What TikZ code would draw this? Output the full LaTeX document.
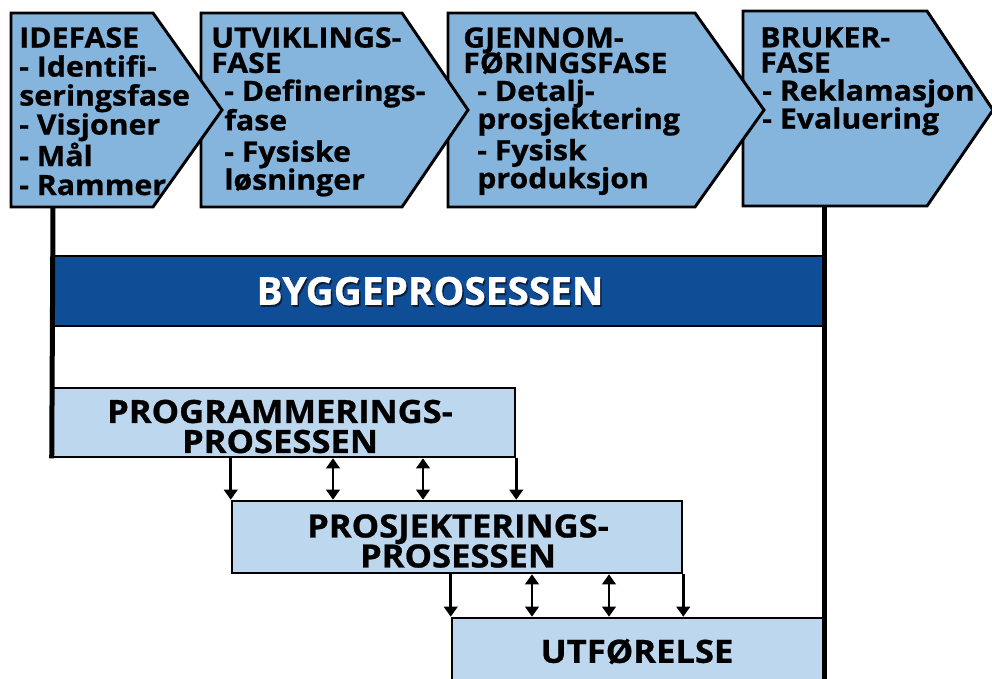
\documentclass[tikz,border=0pt]{standalone}
\usepackage{fontspec}
\setmainfont{Open Sans}[BoldFeatures={FakeStretch=1.08,FakeBold=0.8}]
\usetikzlibrary{arrows.meta}
\definecolor{phasefill}{RGB}{133,180,220}
\definecolor{procfill}{RGB}{189,215,238}
\definecolor{barblue}{RGB}{16,77,151}
\definecolor{barshadow}{RGB}{8,30,60}

\begin{document}
\begin{tikzpicture}[x=0.75pt,y=-0.75pt,
  phase/.style={draw=black, line width=2.2pt, fill=phasefill, line join=miter},
  phasetext/.style={anchor=north west, inner sep=0pt, align=left,
    font=\bfseries\fontsize{21}{21}\selectfont},
  procbox/.style={draw=black, line width=1.9pt, fill=procfill, rectangle, inner sep=0pt},
  proctext/.style={inner sep=0pt, align=center,
    font=\bfseries\fontsize{24}{22.5}\selectfont},
  frame/.style={line width=3.75pt, line cap=butt},
  tip/.tip={Triangle[width=10pt,length=7.5pt]},
  flow/.style={line width=2pt, -tip},
  twoway/.style={line width=2pt, tip-tip}
]
\useasboundingbox (0,0) rectangle (992,678);
\clip (0,0) rectangle (992,678);

% phase chevrons, later phases underneath earlier ones
\draw[phase] (743,11) -- (927,11) -- (993,110) -- (927,206) -- (743,206) -- cycle;
\draw[phase] (448,13) -- (695,13) -- (764,110) -- (695,207) -- (448,207) -- cycle;
\draw[phase] (201,13) -- (402,13) -- (468,110) -- (402,207) -- (201,207) -- cycle;
\draw[phase] (11,13) -- (153,13) -- (222,110) -- (153,207) -- (11,207) -- cycle;
\coordinate (idefoot) at (53,207);
\coordinate (brukerfoot) at (824,206);
\coordinate (pagefoot) at (824,700);

% phase texts
\node[phasetext, font=\bfseries\fontsize{21}{21.75}\selectfont] (idefase) at (19,27)
  {IDEFASE\\- Identifi-\\seringsfase\\- Visjoner\\- Mål\\- Rammer};
\node[phasetext] (utvikling) at (211,27)
  {UTVIKLINGS-\\[-2pt]FASE\\
   \hspace*{9.75pt}- Definerings-\\\hspace*{9.75pt}fase\\[2.5pt]
   \hspace*{9.75pt}- Fysiske\\\hspace*{9.75pt}løsninger};
\node[phasetext] (gjennomforing) at (463,27)
  {GJENNOM-\\[-2pt]FØRINGSFASE\\
   \hspace*{10.5pt}- Detalj-\\\hspace*{10.5pt}prosjektering\\[2.5pt]
   \hspace*{10.5pt}- Fysisk\\\hspace*{10.5pt}produksjon};
\node[phasetext] (bruker) at (760,27)
  {BRUKER-\\[-2pt]FASE\\\hspace*{1.5pt}- Reklamasjon\\\hspace*{1.5pt}- Evaluering};

% building process bar
\node[draw=black, line width=1.5pt, fill=barblue, minimum width=578.25pt,
  minimum height=52.5pt, inner sep=0pt] (bar) at (438.5,291) {};
\node[inner sep=0pt, text=barshadow] at (431.5,293)
  {\resizebox{260pt}{21pt}{\bfseries BYGGEPROSESSEN}};
\node[inner sep=0pt, text=white] (bartext) at (430,291)
  {\resizebox{260pt}{21pt}{\bfseries BYGGEPROSESSEN}};

% sub-processes
\node[procbox, minimum width=346.5pt, minimum height=51.75pt] (prog) at (284,422.5) {};
\node[proctext] (progtext) at (280,426.5) {PROGRAMMERINGS-\\PROSESSEN};
\node[procbox, minimum width=337.5pt, minimum height=54pt] (pros) at (457,537) {};
\node[proctext] (prostext) at (458,541) {PROSJEKTERINGS-\\PROSESSEN};
\node[procbox, minimum width=278.25pt, minimum height=106.5pt] (utf) at (637.5,689) {};
\node[proctext] (utftext) at (637,651.5) {UTFØRELSE};

% links between sub-processes
\draw[flow] (prog.south -| pros.north west) -- (pros.north west);
\draw[twoway] (prog.south -| 333,0) -- (pros.north -| 333,0);
\draw[twoway] (prog.south -| 423,0) -- (pros.north -| 423,0);
\draw[flow] (prog.south east) -- (prog.south east |- pros.north);
\draw[flow] (pros.south -| utf.north west) -- (utf.north west);
\draw[twoway] (pros.south -| 532,0) -- (utf.north -| 532,0);
\draw[twoway] (pros.south -| 609,0) -- (utf.north -| 609,0);
\draw[flow] (pros.south east) -- (pros.south east |- utf.north);

% frame lines from first and last phase
\draw[frame] (idefoot) -- (prog.south west);
\draw[frame] (brukerfoot) -- (pagefoot);
\end{tikzpicture}
\end{document}
